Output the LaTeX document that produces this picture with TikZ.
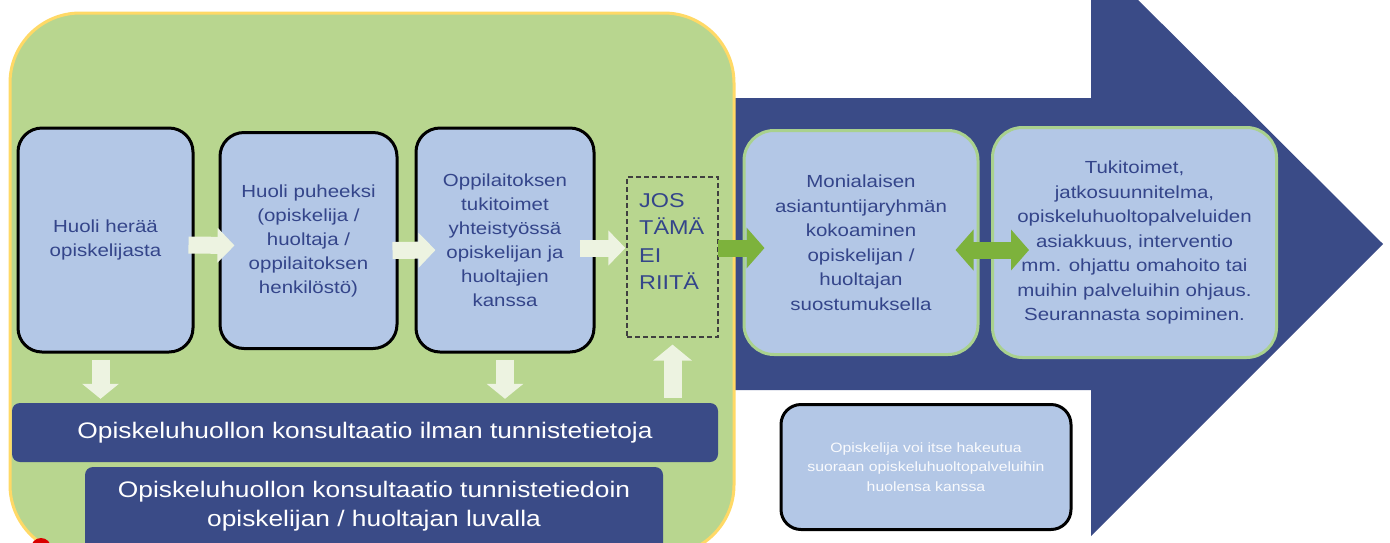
\documentclass[tikz,border=0pt]{standalone}
\usepackage{fontspec}
\setmainfont{Liberation Sans}[FakeStretch=1.17]
\usetikzlibrary{arrows.meta,calc}
\definecolor{bggreen}{HTML}{B8D68F}
\definecolor{bgyellow}{HTML}{FFD966}
\definecolor{navy}{HTML}{3A4B87}
\definecolor{boxblue}{HTML}{B3C7E6}
\definecolor{txtblue}{HTML}{34458A}
\definecolor{palearrow}{HTML}{EDF3E1}
\definecolor{grnarrow}{HTML}{7DB23C}
\definecolor{boxgreenline}{HTML}{A9D18E}
\tikzset{
  stepbox/.style={draw=black, line width=3pt, fill=boxblue, rounded corners=24pt,
    text=txtblue, align=center, font=\fontsize{17.5}{24}\selectfont, inner sep=0pt},
  outbox/.style={draw=boxgreenline, line width=3pt, fill=boxblue, rounded corners=30pt,
    text=txtblue, align=center, font=\fontsize{17.5}{24.5}\selectfont, inner sep=0pt},
  bar/.style={fill=navy, rounded corners=8pt, text=white, align=center, inner sep=0pt},
  pale/.style={palearrow, line width=17pt, -{Triangle[length=17pt,width=34pt]}},
  paleup/.style={palearrow, line width=18pt, -{Triangle[length=16pt,width=38pt]}},
  grn/.style={grnarrow, line width=17pt, -{Triangle[length=18pt,width=40pt]}},
  grn2/.style={grnarrow, line width=17pt, {Triangle[length=18pt,width=40pt]}-{Triangle[length=18pt,width=40pt]}},
}
\begin{document}
\begin{tikzpicture}[x=1pt,y=-1pt]
\useasboundingbox (0,0) rectangle (1390,542);
\begin{scope}
\clip (0,0) rectangle (1390,542);
% big arrow
\fill[navy] (720,98) -- (1091,98) -- (1091,-47) -- (1383,244) -- (1091,536) -- (1091,390) -- (720,390) -- cycle;
% green panel
\draw[bgyellow, line width=3pt, fill=bggreen, rounded corners=70pt] (10,13) rectangle (734,555);
% red fragment
\fill[red!85!black] (41,548) circle (10);
\end{scope}

% step boxes
\node[stepbox, minimum width=175pt, minimum height=224pt] (b1) at (105.5,240) {Huoli herää\\opiskelijasta};
\node[stepbox, minimum width=177pt, minimum height=216pt] (b2) at (308.5,240.5) {Huoli puheeksi\\(opiskelija /\\huoltaja /\\oppilaitoksen\\henkilöstö)};
\node[stepbox, minimum width=178pt, minimum height=224pt] (b3) at (505,240) {Oppilaitoksen\\tukitoimet\\yhteistyössä\\opiskelijan ja\\huoltajien\\kanssa};
\node[draw=black!75, dashed, line width=1.2pt, dash pattern=on 5pt off 3pt, minimum width=91pt, minimum height=160pt, inner sep=0pt] (jos) at (672.5,257) {};
\node[anchor=north west, align=left, text=txtblue, font=\fontsize{20}{27.5}\selectfont, inner sep=0pt] (jostxt) at (639,193) {JOS\\TÄMÄ\\EI\\RIITÄ};

% bars
\node[bar, minimum width=706pt, minimum height=59pt, font=\fontsize{22.5}{27}\selectfont] (bar1) at (365,432.5) {Opiskeluhuollon konsultaatio ilman tunnistetietoja};
\begin{scope}
\clip (0,0) rectangle (1390,542);
\node[bar, minimum width=578pt, minimum height=84pt] (bar2) at (374,509) {};
\end{scope}
\node[text=white, align=center, font=\fontsize{22.5}{29}\selectfont, inner sep=0pt] (bar2txt) at (374,506.5) {Opiskeluhuollon konsultaatio tunnistetiedoin\\opiskelijan / huoltajan luvalla};

% right boxes
\node[outbox, minimum width=234pt, minimum height=224pt] (b4) at (861,242.5) {Monialaisen\\asiantuntijaryhmän\\kokoaminen\\opiskelijan /\\huoltajan\\suostumuksella};
\node[outbox, minimum width=284pt, minimum height=230pt] (b5) at (1134.5,242.5) {Tukitoimet,\\jatkosuunnitelma,\\opiskeluhuoltopalveluiden\\asiakkuus, interventio\\mm. ohjattu omahoito tai\\muihin palveluihin ohjaus.\\Seurannasta sopiminen.};
\node[stepbox, rounded corners=20pt, minimum width=290pt, minimum height=125pt, text=white!92!boxblue, font=\fontsize{13.5}{19.5}\selectfont] (b6) at (926,467) {Opiskelija voi itse hakeutua\\suoraan opiskeluhuoltopalveluihin\\huolensa kanssa};

% pale arrows
\draw[pale] ($(b1.east)+(-6,5)$) -- ($(b2.west)+(16,5)$);
\draw[pale] ($(b2.east)+(-6,10)$) -- ($(b3.west)+(21,10)$);
\draw[pale] ($(b3.east)+(-16,8)$) -- ($(jos.west)+(-1,-9)$);
\draw[paleup, -{Triangle[length=15pt,width=36pt]}] ($(b1.south)+(-5,6)$) -- ($(b1.south |- bar1.north)+(-5,-4)$);
\draw[paleup, -{Triangle[length=15pt,width=36pt]}] ($(b3.south)+(0,6)$) -- ($(b3.south |- bar1.north)+(0,-4)$);
\draw[paleup] ($(jos.south |- bar1.north)+(0,-5)$) -- ($(jos.south)+(0,7)$);

% green arrows
\draw[grn] ($(jos.east)+(-1,-9)$) -- ($(b4.west)+(22,5.5)$);
\draw[grn2] ($(b4.east)+(-24,7.5)$) -- ($(b5.west)+(38,7.5)$);
\end{tikzpicture}
\end{document}
